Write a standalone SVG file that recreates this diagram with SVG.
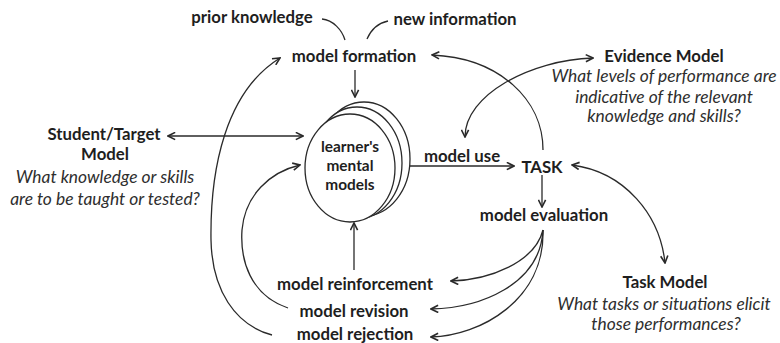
<svg xmlns="http://www.w3.org/2000/svg" width="780" height="343" viewBox="0 0 780 343">
<defs>
<marker id="ah" viewBox="0 0 10 10" refX="9" refY="5" markerWidth="9" markerHeight="9" markerUnits="userSpaceOnUse" orient="auto-start-reverse">
<path d="M1,1 L9,5 L1,9" fill="none" stroke="#2a2a2a" stroke-width="1.8"/>
</marker>
<style>
text{font-family:Lato,"Open Sans","Liberation Sans",sans-serif;fill:#1e1e1e;text-anchor:middle}
.b{font-weight:bold;font-size:16.8px}
.m{font-weight:bold;font-size:15.4px}
.i{font-style:italic;font-size:17.4px;fill:#2e2e2e}
.c{fill:none;stroke:#2a2a2a;stroke-width:1.3}
.e{fill:#fff;stroke:#2a2a2a;stroke-width:1.3}
</style>
</defs>
<rect width="780" height="343" fill="#fff"/>
<g id="connectors">
<path class="c" d="M322,19 C333,20 342,30 345,40"/>
<path class="c" d="M367,39 C371,30 378,23 388,21"/>
<path class="c" d="M355,70 L355,97" marker-end="url(#ah)"/>
<path class="c" d="M168,136 L303,136" marker-start="url(#ah)" marker-end="url(#ah)"/>
<path class="c" d="M272,335 C235,325 212,290 211,240 C210,170 225,92 280,58" marker-end="url(#ah)"/>
<path class="c" d="M288,308 C250,295 240,260 242,230 C245,195 270,172 300,165" marker-end="url(#ah)"/>
<path class="c" d="M354,270 L354,223" marker-end="url(#ah)"/>
<path class="c" d="M393,166 L514,166" marker-end="url(#ah)"/>
<path class="c" d="M543,150 C543,100 500,58 432,55" marker-end="url(#ah)"/>
<path class="c" d="M465,137 C465,95 530,60 593,58" marker-start="url(#ah)" marker-end="url(#ah)"/>
<path class="c" d="M542,175 L542,207" marker-end="url(#ah)"/>
<path class="c" d="M543,230 C535,262 490,280 451,281" marker-end="url(#ah)"/>
<path class="c" d="M543,230 C540,285 480,308 431,309" marker-end="url(#ah)"/>
<path class="c" d="M543,230 C545,300 480,336 431,337" marker-end="url(#ah)"/>
<path class="c" d="M572,165 C625,172 660,215 665,263" marker-start="url(#ah)" marker-end="url(#ah)"/>
</g>
<g id="prior-knowledge"><text class="b" x="252" y="23">prior knowledge</text></g>
<g id="new-information"><text class="b" x="455" y="25">new information</text></g>
<g id="model-formation"><text class="b" x="354" y="62">model formation</text></g>
<g id="mental-models">
<ellipse class="e" cx="364" cy="159" rx="46" ry="57"/>
<ellipse class="e" cx="357" cy="163" rx="45" ry="56"/>
<ellipse class="e" cx="350" cy="168" rx="45" ry="54"/>
<text class="m" x="350" y="152">learner's</text>
<text class="m" x="350" y="171">mental</text>
<text class="m" x="350" y="190">models</text>
</g>
<g id="student-target-model">
<text class="b" x="104" y="140">Student/Target</text>
<text class="b" x="105" y="160">Model</text>
<text class="i" x="105" y="183">What knowledge or skills</text>
<text class="i" x="105" y="205">are to be taught or tested?</text>
</g>
<g id="model-use"><text class="b" x="462" y="162">model use</text></g>
<g id="task"><text class="b" x="542" y="173">TASK</text></g>
<g id="evidence-model">
<text class="b" x="664" y="62">Evidence Model</text>
<text class="i" x="664" y="82">What levels of performance are</text>
<text class="i" x="664" y="103">indicative of the relevant</text>
<text class="i" x="664" y="122">knowledge and skills?</text>
</g>
<g id="model-evaluation"><text class="b" x="544" y="221">model evaluation</text></g>
<g id="model-reinforcement"><text class="b" x="355" y="290">model reinforcement</text></g>
<g id="model-revision"><text class="b" x="354" y="317">model revision</text></g>
<g id="model-rejection"><text class="b" x="355" y="340">model rejection</text></g>
<g id="task-model">
<text class="b" x="665" y="288">Task Model</text>
<text class="i" x="664" y="310">What tasks or situations elicit</text>
<text class="i" x="666" y="330">those performances?</text>
</g>
</svg>
